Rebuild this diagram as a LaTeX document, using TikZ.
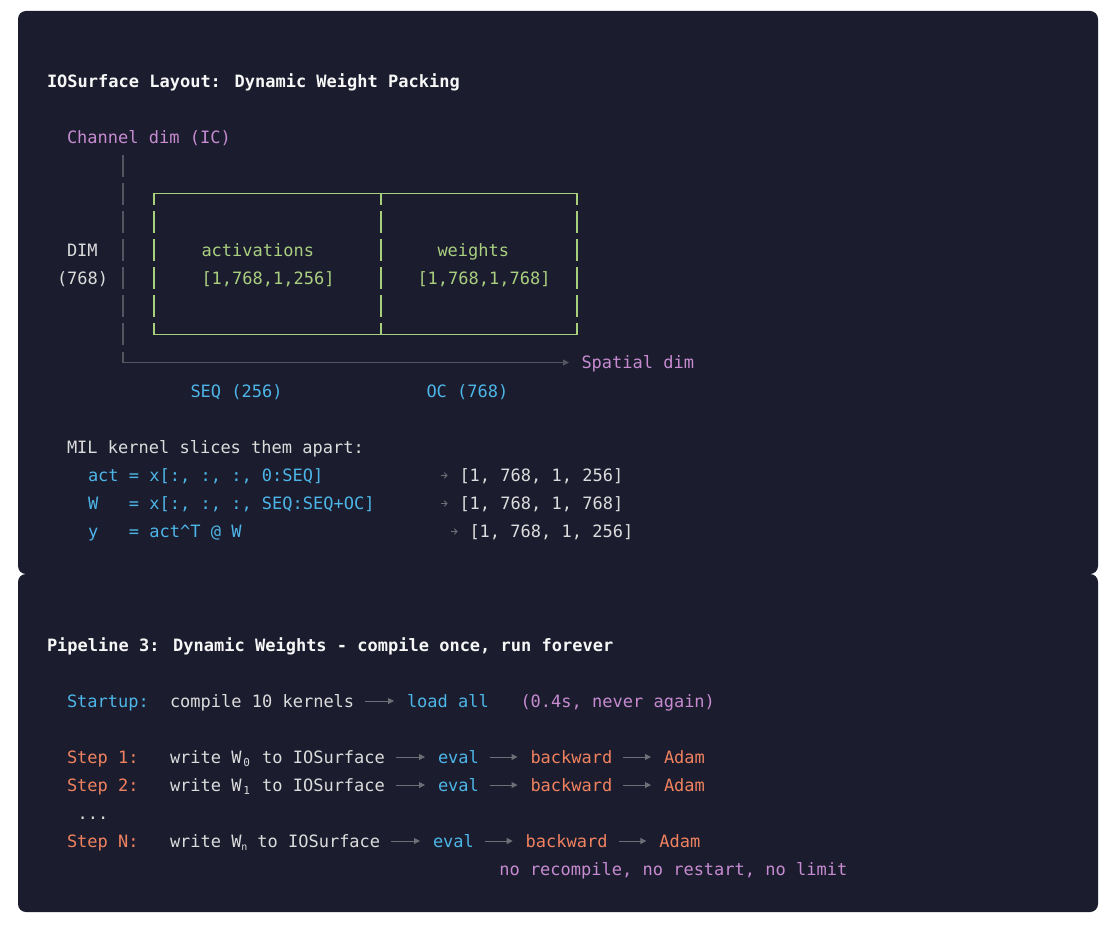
\documentclass[tikz,border=0pt]{standalone}
\usepackage{fontspec}
\setmainfont{DejaVu Sans Mono}
\usetikzlibrary{arrows.meta}
\definecolor{bg}{HTML}{1B1C2E}
\definecolor{txtc}{HTML}{DCDCDC}
\definecolor{ttlc}{HTML}{F7F7F7}
\definecolor{purc}{HTML}{C68BD0}
\definecolor{bluc}{HTML}{4DB6E8}
\definecolor{orgc}{HTML}{F0825F}
\definecolor{grnc}{HTML}{A9CF7F}
\definecolor{boxc}{HTML}{A6D07C}
\definecolor{agray}{HTML}{6E6E76}
\definecolor{axgray}{HTML}{55555F}
\newcommand{\mysub}[3]{\makebox[#1][c]{\raisebox{-3pt}{\fontsize{#2}{#2}\selectfont #3}}}
\tikzset{
  base/.style={inner sep=0pt, outer sep=0pt, anchor=west, text height=15pt, text depth=3pt, font=\fontsize{17}{20}\selectfont},
  txt/.style={base, text=txtc},
  ttl/.style={base, text=ttlc, font=\fontsize{17}{20}\selectfont\bfseries},
  pur/.style={base, text=purc},
  blu/.style={base, text=bluc},
  org/.style={base, text=orgc},
  grn/.style={base, text=grnc},
  lab/.style={base, text=txtc},
  resarr/.style={draw=agray, line width=0.9pt, -{Straight Barb[length=2.5pt,width=5.5pt]}},
  flow/.style={draw=agray, line width=1pt, -{Triangle[length=6pt,width=6pt]}, shorten <=11pt, shorten >=13pt},
  axisv/.style={draw=axgray, line width=1.7pt},
  axish/.style={draw=axgray, line width=1pt},
  boxv/.style={draw=boxc, line width=2pt},
  boxh/.style={draw=boxc, line width=1.2pt},
  panel/.style={fill=bg, rounded corners=8pt}
}
\begin{document}
\begin{tikzpicture}[x=1pt,y=-1pt]
\fill[white] (0,0) rectangle (1110,928);
\useasboundingbox (0,0) rectangle (1110,928);
\fill[panel] (18,11) rectangle (1098,574);
\fill[panel] (18,574) rectangle (1098,912);

% ---------- panel 1 ----------
\node[ttl] (t1) at (47,82) {IOSurface Layout: Dynamic Weight Packing};
\node[pur] (ch) at (67,138) {Channel dim (IC)};

% channel axis (segmented vertical bar)
\foreach \c in {166,194.1,222.1,250.2,278.3,306.4,334.4}
  \draw[axisv] (123,\c-11) -- (123,\c+11);
\node[pur] (sp) at (581.5,362.5) {Spatial dim};
\draw[axisv] (123,351.5) -- (123,363);
\draw[axish, -{Triangle[length=6pt,width=6pt]}, shorten >=12.5pt] (123,362.5) -- (sp.west);

% packed buffer box
\draw[boxh] (154,193.5) -- (576.5,193.5);
\draw[boxh] (154,334.3) -- (576.5,334.3);
\foreach \x in {154,380.7,576.5} {
  \draw[boxv] (\x,192.9) -- (\x,205);
  \draw[boxv] (\x,323.4) -- (\x,334.9);
  \foreach \c in {222.1,250.2,278.3,306.4}
    \draw[boxv] (\x,\c-11) -- (\x,\c+11);
}

\node[lab] (dim) at (67,250.2) {DIM};
\node[lab] (dimn) at (57,278.3) {(768)};
\node[grn] (act) at (201.5,250.2) {activations};
\node[grn] (acts) at (201.5,278.3) {[1,768,1,256]};
\node[grn] (wt) at (437.5,250.2) {weights};
\node[grn] (wts) at (417.5,278.3) {[1,768,1,768]};

\node[blu] (seq) at (190.5,391) {SEQ (256)};
\node[blu] (oc) at (426.5,391) {OC (768)};

\node[txt] (mil) at (67,447) {MIL kernel slices them apart:};
\node[blu] (l1) at (88,475) {act = x[:, :, :, 0:SEQ]};
\node[blu] (l2) at (88,503) {W~~~= x[:, :, :, SEQ:SEQ+OC]};
\node[blu] (l3) at (88,531) {y~~~= act\textasciicircum T @ W};
\node[txt] (r1) at (459.5,475) {[1, 768, 1, 256]};
\node[txt] (r2) at (459.5,503) {[1, 768, 1, 768]};
\node[txt] (r3) at (469.5,531) {[1, 768, 1, 256]};
\coordinate (g1) at (440.5,475.5);
\coordinate (g2) at (440.5,503.5);
\coordinate (g3) at (450.5,531.5);
\draw[resarr] (g1) -- ([xshift=-12pt]r1.west |- g1);
\draw[resarr] (g2) -- ([xshift=-12pt]r2.west |- g2);
\draw[resarr] (g3) -- ([xshift=-12pt]r3.west |- g3);

% ---------- panel 2 ----------
\node[ttl] (t2) at (47,645) {Pipeline 3: Dynamic Weights - compile once, run forever};

\node[blu] (su) at (67,701) {Startup:};
\node[txt] (ck) at (170,701) {compile 10 kernels};
\node[blu] (la) at (407,701) {load all};
\node[pur] (na) at (520.5,701) {(0.4s, never again)};
\draw[flow] (ck) -- (la);

\node[org] (s1) at (67,757) {Step 1:};
\node[txt] (w1) at (170,757) {write W\mysub{10.234pt}{11}{0} to IOSurface};
\node[blu] (e1) at (438,757) {eval};
\node[org] (b1) at (530.5,757) {backward};
\node[org] (m1) at (664,757) {Adam};
\draw[flow] (w1) -- (e1);
\draw[flow] (e1) -- (b1);
\draw[flow] (b1) -- (m1);

\node[org] (s2) at (67,785) {Step 2:};
\node[txt] (w2) at (170,785) {write W\mysub{10.234pt}{11}{1} to IOSurface};
\node[blu] (e2) at (438,785) {eval};
\node[org] (b2) at (530.5,785) {backward};
\node[org] (m2) at (664,785) {Adam};
\draw[flow] (w2) -- (e2);
\draw[flow] (e2) -- (b2);
\draw[flow] (b2) -- (m2);

\node[txt] (dots) at (77.7,813) {...};

\node[org] (sn) at (67,841) {Step N:};
\node[txt] (wn) at (170,841) {write W\mysub{5.5pt}{10}{n} to IOSurface};
\node[blu] (en) at (433,841) {eval};
\node[org] (bn) at (525.7,841) {backward};
\node[org] (mn) at (659.3,841) {Adam};
\draw[flow] (wn) -- (en);
\draw[flow] (en) -- (bn);
\draw[flow] (bn) -- (mn);

\node[pur] (nr) at (499.3,869) {no recompile, no restart, no limit};
\end{tikzpicture}
\end{document}
